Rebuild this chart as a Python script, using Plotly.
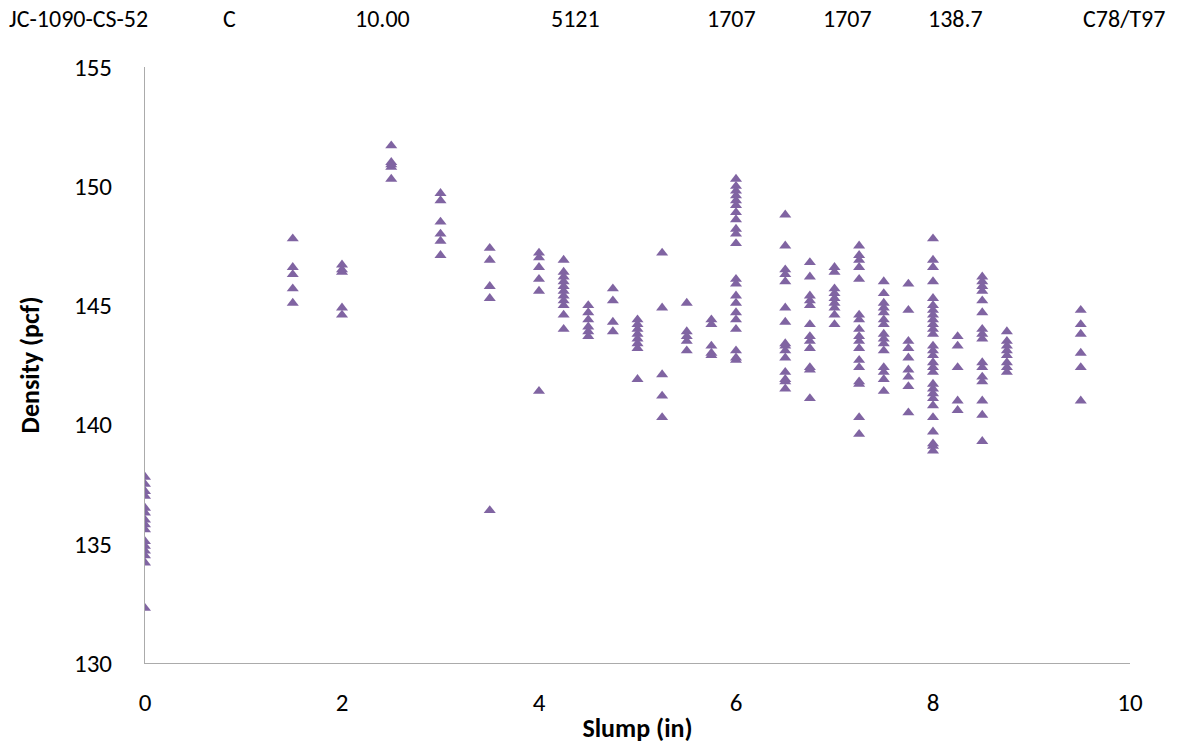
import plotly.graph_objects as go

# Slump values (in) and the densities (pcf) measured at each slump
slump_levels = [0, 1.5, 2, 2.5, 3, 3.5, 4, 4.25, 4.5, 4.75, 5, 5.25, 5.5, 5.75, 6,
                6.5, 6.75, 7, 7.25, 7.5, 7.75, 8, 8.25, 8.5, 8.75, 9.5]

d_0_00 = [137.8, 137.5, 137.2, 137.0, 136.5, 136.3, 136.0, 135.8, 135.6, 135.1, 134.9, 134.7, 134.5, 134.2, 132.3]
d_1_50 = [147.8, 146.6, 146.3, 145.7, 145.1]
d_2_00 = [146.7, 146.5, 146.4, 144.9, 144.6]
d_2_50 = [151.7, 151.0, 150.9, 150.8, 150.3]
d_3_00 = [149.7, 149.4, 148.5, 148.0, 147.7, 147.1]
d_3_50 = [147.4, 146.9, 145.8, 145.3, 136.4]
d_4_00 = [147.2, 147.0, 146.6, 146.1, 145.6, 141.4]
d_4_25 = [146.9, 146.4, 146.2, 146.0, 145.8, 145.6, 145.4, 145.2, 145.0, 144.6, 144.0]
d_4_50 = [145.0, 144.7, 144.4, 144.1, 143.9, 143.7]
d_4_75 = [145.7, 145.2, 144.3, 143.9]
d_5_00 = [144.4, 144.2, 144.0, 143.8, 143.6, 143.4, 143.2, 141.9]
d_5_25 = [147.2, 144.9, 142.1, 141.2, 140.3]
d_5_50 = [145.1, 143.9, 143.7, 143.5, 143.1]
d_5_75 = [144.4, 144.2, 143.3, 143.0, 142.9]
d_6_00 = [150.3, 150.0, 149.8, 149.6, 149.4, 149.2, 148.9, 148.6, 148.2, 148.0, 147.6,
          146.1, 145.9, 145.4, 145.1, 144.7, 144.4, 144.0, 143.1, 142.8, 142.7]
d_6_50 = [148.8, 147.5, 146.5, 146.3, 146.0, 144.9, 144.3, 143.4, 143.3, 143.1, 142.8,
          142.2, 141.9, 141.8, 141.5]
d_6_75 = [146.8, 146.2, 145.4, 145.2, 145.0, 144.2, 143.7, 143.5, 143.2, 142.4, 142.3, 141.1]
d_7_00 = [146.6, 146.4, 145.7, 145.5, 145.3, 145.1, 144.9, 144.6, 144.2]
d_7_25 = [147.5, 147.1, 146.9, 146.6, 146.1, 144.6, 144.4, 144.0, 143.7, 143.5, 143.2,
          142.7, 142.4, 141.8, 141.7, 140.3, 139.6]
d_7_50 = [146.0, 145.5, 145.1, 144.9, 144.7, 144.4, 144.2, 143.8, 143.6, 143.4, 143.1,
          142.4, 142.2, 141.9, 141.4]
d_7_75 = [145.9, 144.8, 143.5, 143.2, 142.8, 142.3, 142.0, 141.6, 140.5]
d_8_00 = [147.8, 146.9, 146.6, 146.0, 145.3, 145.0, 144.8, 144.6, 144.4, 144.2, 144.0,
          143.8, 143.3, 143.1, 142.9, 142.6, 142.4, 142.2, 141.7, 141.5, 141.3, 141.1,
          140.8, 140.3, 139.7, 139.2, 139.1, 138.9]
d_8_25 = [143.7, 143.3, 142.4, 141.0, 140.6]
d_8_50 = [146.2, 146.0, 145.8, 145.6, 145.2, 144.7, 144.0, 143.8, 143.6, 142.6, 142.4,
          142.0, 141.8, 141.0, 140.4, 139.3]
d_8_75 = [143.9, 143.5, 143.3, 143.1, 142.9, 142.6, 142.4, 142.2]
d_9_50 = [144.8, 144.2, 143.8, 143.0, 142.4, 141.0]

density_groups = [d_0_00, d_1_50, d_2_00, d_2_50, d_3_00, d_3_50, d_4_00, d_4_25, d_4_50,
                  d_4_75, d_5_00, d_5_25, d_5_50, d_5_75, d_6_00, d_6_50, d_6_75, d_7_00,
                  d_7_25, d_7_50, d_7_75, d_8_00, d_8_25, d_8_50, d_8_75, d_9_50]

header_texts = ["JC-1090-CS-52", "C", "10.00", "5121", "1707", "1707", "138.7", "C78/T97"]
header_px = [78, 229, 382, 575, 731, 847, 955, 1124]

x_ticks = [0, 2, 4, 6, 8, 10]
y_ticks = [130, 135, 140, 145, 150, 155]

xs, ys = [], []
for s, group in zip(slump_levels, density_groups):
    for d in group:
        xs.append(s)
        ys.append(d)

FONT = "Carlito, Open Sans, sans-serif"
W, H = 1180, 744
ML, MR, MT, MB = 145, 50, 67, 81
PW = W - ML - MR

fig = go.Figure()
fig.add_trace(go.Scatter(
    x=xs, y=ys, mode="markers",
    marker=dict(symbol="triangle-up", size=10.5, color="#8064A2", line=dict(width=0)),
    showlegend=False, hoverinfo="x+y",
))

annotations = []
for t, px in zip(header_texts, header_px):
    annotations.append(dict(
        text=t, x=(px - ML) / PW, y=(H - 18 - MB) / (H - MT - MB),
        xref="paper", yref="paper", xanchor="center", yanchor="middle",
        showarrow=False, font=dict(family=FONT, size=24, color="#000000"),
    ))

fig.update_layout(
    width=W, height=H,
    margin=dict(l=ML, r=MR, t=MT, b=MB, autoexpand=False),
    paper_bgcolor="white", plot_bgcolor="white",
    font=dict(family=FONT, color="#000000"),
    annotations=annotations,
    xaxis=dict(
        range=[0, 10], tickvals=x_ticks, ticktext=[str(v) for v in x_ticks],
        automargin=False,
        showgrid=False, zeroline=False, showline=True, linecolor="#ABABAB", linewidth=1,
        ticks="", ticklabelstandoff=17, tickfont=dict(family=FONT, size=25, color="#000000"),
        title=dict(text="<b>Slump (in)</b>", font=dict(family=FONT, size=26, color="#000000"), standoff=2),
    ),
    yaxis=dict(
        range=[130, 155], tickvals=y_ticks, ticktext=[str(v) for v in y_ticks],
        automargin=False,
        showgrid=False, zeroline=False, showline=True, linecolor="#ABABAB", linewidth=1,
        ticks="", ticklabelstandoff=27, tickfont=dict(family=FONT, size=25, color="#000000"),
        title=dict(text="<b>Density (pcf)</b>", font=dict(family=FONT, size=26, color="#000000"), standoff=26),
    ),
)

fig.write_html("out.html")
